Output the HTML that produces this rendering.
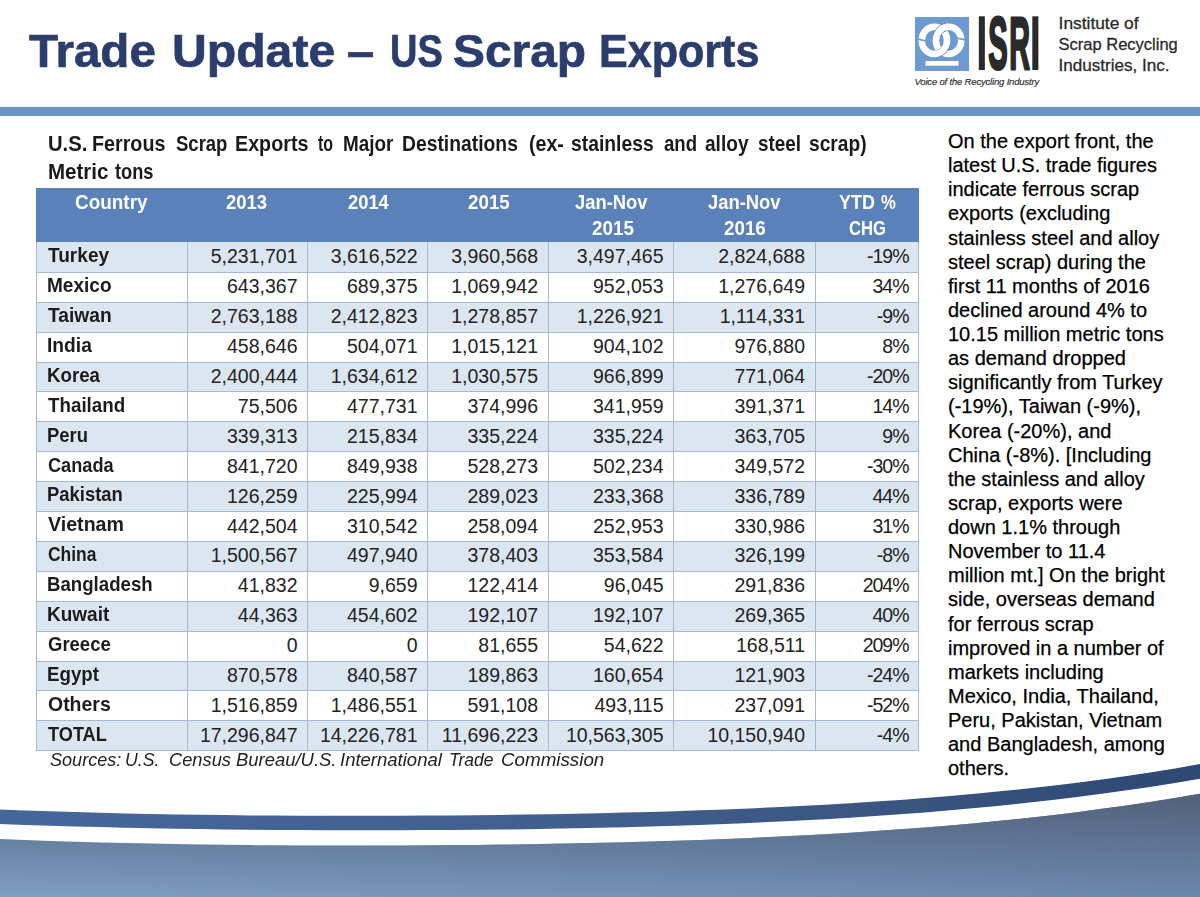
<!DOCTYPE html>
<html lang="en">
<head>
<meta charset="utf-8">
<title>Trade Update – US Scrap Exports</title>
<style>
html,body{margin:0;padding:0;}
body{width:1200px;height:897px;position:relative;overflow:hidden;background:#fff;
  font-family:"Liberation Sans",sans-serif;color:#111;}
.abs{position:absolute;white-space:nowrap;}
#bar{left:0;top:107px;width:1200px;height:9px;background:linear-gradient(#6e90b8 0,#6b96c8 1.5px,#6b96c8 7.5px,#6e90b8 9px);}
#logo{left:900px;top:0;width:300px;height:105px;}
#tbl{left:36px;top:187.5px;width:883px;height:564px;}
#para{left:948px;top:129px;font-size:20px;line-height:24.12px;color:#000;white-space:nowrap;-webkit-text-stroke:0.25px #000;}
#foot{left:0;top:740px;width:1200px;height:157px;}

.w{position:absolute;display:block;white-space:nowrap;transform-origin:0 50%;line-height:1.117;font-weight:bold;}
.ttl{color:#2b3d6d;-webkit-text-stroke:0.7px #2b3d6d;}
.src{color:#222;font-weight:normal;font-style:italic;}
.tt{color:#1a1a1a;}
.nm{color:#1c1c1c;}
.hh{color:#fff;}
/* table */
#tbl .hd{position:absolute;left:0;top:0;width:882.5px;height:55px;background:#5a81ba;}
#tbl .row{position:absolute;left:0;width:882.5px;height:29.9px;box-sizing:border-box;}
#tbl .row.odd{background:#dce6f1;}
#tbl .row.even{background:#fff;}
#tbl .hl{position:absolute;left:0;width:882.5px;height:1px;background:#a6b9d7;}
#tbl .vl{position:absolute;top:55px;width:1px;height:508.3px;background:#a6b9d7;}
#tbl .c{position:absolute;font-size:19.5px;line-height:29.9px;height:29.9px;color:#232323;}
#tbl .r{text-align:right;}
</style>
</head>
<body>
<div id="bar" class="abs"></div>
<div id="tbl" class="abs">
<div class="hd" style="height:54.9px"></div>
<div class="row odd" style="top:54.90px"></div>
<div class="row even" style="top:84.80px"></div>
<div class="row odd" style="top:114.70px"></div>
<div class="row even" style="top:144.60px"></div>
<div class="row odd" style="top:174.50px"></div>
<div class="row even" style="top:204.40px"></div>
<div class="row odd" style="top:234.30px"></div>
<div class="row even" style="top:264.20px"></div>
<div class="row odd" style="top:294.10px"></div>
<div class="row even" style="top:324.00px"></div>
<div class="row odd" style="top:353.90px"></div>
<div class="row even" style="top:383.80px"></div>
<div class="row odd" style="top:413.70px"></div>
<div class="row even" style="top:443.60px"></div>
<div class="row odd" style="top:473.50px"></div>
<div class="row even" style="top:503.40px"></div>
<div class="row odd" style="top:533.30px"></div>
<div class="c r" style="top:54.90px;left:151.5px;width:110.0px">5,231,701</div>
<div class="c r" style="top:54.90px;left:271.5px;width:110.0px">3,616,522</div>
<div class="c r" style="top:54.90px;left:391.5px;width:110.5px">3,960,568</div>
<div class="c r" style="top:54.90px;left:512.0px;width:115.5px">3,497,465</div>
<div class="c r" style="top:54.90px;left:637.5px;width:131.5px">2,824,688</div>
<div class="c r" style="top:54.90px;left:779.0px;width:93.5px;letter-spacing:-1px">-19%</div>
<div class="c r" style="top:84.80px;left:151.5px;width:110.0px">643,367</div>
<div class="c r" style="top:84.80px;left:271.5px;width:110.0px">689,375</div>
<div class="c r" style="top:84.80px;left:391.5px;width:110.5px">1,069,942</div>
<div class="c r" style="top:84.80px;left:512.0px;width:115.5px">952,053</div>
<div class="c r" style="top:84.80px;left:637.5px;width:131.5px">1,276,649</div>
<div class="c r" style="top:84.80px;left:779.0px;width:93.5px;letter-spacing:-1px">34%</div>
<div class="c r" style="top:114.70px;left:151.5px;width:110.0px">2,763,188</div>
<div class="c r" style="top:114.70px;left:271.5px;width:110.0px">2,412,823</div>
<div class="c r" style="top:114.70px;left:391.5px;width:110.5px">1,278,857</div>
<div class="c r" style="top:114.70px;left:512.0px;width:115.5px">1,226,921</div>
<div class="c r" style="top:114.70px;left:637.5px;width:131.5px">1,114,331</div>
<div class="c r" style="top:114.70px;left:779.0px;width:93.5px;letter-spacing:-1px">-9%</div>
<div class="c r" style="top:144.60px;left:151.5px;width:110.0px">458,646</div>
<div class="c r" style="top:144.60px;left:271.5px;width:110.0px">504,071</div>
<div class="c r" style="top:144.60px;left:391.5px;width:110.5px">1,015,121</div>
<div class="c r" style="top:144.60px;left:512.0px;width:115.5px">904,102</div>
<div class="c r" style="top:144.60px;left:637.5px;width:131.5px">976,880</div>
<div class="c r" style="top:144.60px;left:779.0px;width:93.5px;letter-spacing:-1px">8%</div>
<div class="c r" style="top:174.50px;left:151.5px;width:110.0px">2,400,444</div>
<div class="c r" style="top:174.50px;left:271.5px;width:110.0px">1,634,612</div>
<div class="c r" style="top:174.50px;left:391.5px;width:110.5px">1,030,575</div>
<div class="c r" style="top:174.50px;left:512.0px;width:115.5px">966,899</div>
<div class="c r" style="top:174.50px;left:637.5px;width:131.5px">771,064</div>
<div class="c r" style="top:174.50px;left:779.0px;width:93.5px;letter-spacing:-1px">-20%</div>
<div class="c r" style="top:204.40px;left:151.5px;width:110.0px">75,506</div>
<div class="c r" style="top:204.40px;left:271.5px;width:110.0px">477,731</div>
<div class="c r" style="top:204.40px;left:391.5px;width:110.5px">374,996</div>
<div class="c r" style="top:204.40px;left:512.0px;width:115.5px">341,959</div>
<div class="c r" style="top:204.40px;left:637.5px;width:131.5px">391,371</div>
<div class="c r" style="top:204.40px;left:779.0px;width:93.5px;letter-spacing:-1px">14%</div>
<div class="c r" style="top:234.30px;left:151.5px;width:110.0px">339,313</div>
<div class="c r" style="top:234.30px;left:271.5px;width:110.0px">215,834</div>
<div class="c r" style="top:234.30px;left:391.5px;width:110.5px">335,224</div>
<div class="c r" style="top:234.30px;left:512.0px;width:115.5px">335,224</div>
<div class="c r" style="top:234.30px;left:637.5px;width:131.5px">363,705</div>
<div class="c r" style="top:234.30px;left:779.0px;width:93.5px;letter-spacing:-1px">9%</div>
<div class="c r" style="top:264.20px;left:151.5px;width:110.0px">841,720</div>
<div class="c r" style="top:264.20px;left:271.5px;width:110.0px">849,938</div>
<div class="c r" style="top:264.20px;left:391.5px;width:110.5px">528,273</div>
<div class="c r" style="top:264.20px;left:512.0px;width:115.5px">502,234</div>
<div class="c r" style="top:264.20px;left:637.5px;width:131.5px">349,572</div>
<div class="c r" style="top:264.20px;left:779.0px;width:93.5px;letter-spacing:-1px">-30%</div>
<div class="c r" style="top:294.10px;left:151.5px;width:110.0px">126,259</div>
<div class="c r" style="top:294.10px;left:271.5px;width:110.0px">225,994</div>
<div class="c r" style="top:294.10px;left:391.5px;width:110.5px">289,023</div>
<div class="c r" style="top:294.10px;left:512.0px;width:115.5px">233,368</div>
<div class="c r" style="top:294.10px;left:637.5px;width:131.5px">336,789</div>
<div class="c r" style="top:294.10px;left:779.0px;width:93.5px;letter-spacing:-1px">44%</div>
<div class="c r" style="top:324.00px;left:151.5px;width:110.0px">442,504</div>
<div class="c r" style="top:324.00px;left:271.5px;width:110.0px">310,542</div>
<div class="c r" style="top:324.00px;left:391.5px;width:110.5px">258,094</div>
<div class="c r" style="top:324.00px;left:512.0px;width:115.5px">252,953</div>
<div class="c r" style="top:324.00px;left:637.5px;width:131.5px">330,986</div>
<div class="c r" style="top:324.00px;left:779.0px;width:93.5px;letter-spacing:-1px">31%</div>
<div class="c r" style="top:353.90px;left:151.5px;width:110.0px">1,500,567</div>
<div class="c r" style="top:353.90px;left:271.5px;width:110.0px">497,940</div>
<div class="c r" style="top:353.90px;left:391.5px;width:110.5px">378,403</div>
<div class="c r" style="top:353.90px;left:512.0px;width:115.5px">353,584</div>
<div class="c r" style="top:353.90px;left:637.5px;width:131.5px">326,199</div>
<div class="c r" style="top:353.90px;left:779.0px;width:93.5px;letter-spacing:-1px">-8%</div>
<div class="c r" style="top:383.80px;left:151.5px;width:110.0px">41,832</div>
<div class="c r" style="top:383.80px;left:271.5px;width:110.0px">9,659</div>
<div class="c r" style="top:383.80px;left:391.5px;width:110.5px">122,414</div>
<div class="c r" style="top:383.80px;left:512.0px;width:115.5px">96,045</div>
<div class="c r" style="top:383.80px;left:637.5px;width:131.5px">291,836</div>
<div class="c r" style="top:383.80px;left:779.0px;width:93.5px;letter-spacing:-1px">204%</div>
<div class="c r" style="top:413.70px;left:151.5px;width:110.0px">44,363</div>
<div class="c r" style="top:413.70px;left:271.5px;width:110.0px">454,602</div>
<div class="c r" style="top:413.70px;left:391.5px;width:110.5px">192,107</div>
<div class="c r" style="top:413.70px;left:512.0px;width:115.5px">192,107</div>
<div class="c r" style="top:413.70px;left:637.5px;width:131.5px">269,365</div>
<div class="c r" style="top:413.70px;left:779.0px;width:93.5px;letter-spacing:-1px">40%</div>
<div class="c r" style="top:443.60px;left:151.5px;width:110.0px">0</div>
<div class="c r" style="top:443.60px;left:271.5px;width:110.0px">0</div>
<div class="c r" style="top:443.60px;left:391.5px;width:110.5px">81,655</div>
<div class="c r" style="top:443.60px;left:512.0px;width:115.5px">54,622</div>
<div class="c r" style="top:443.60px;left:637.5px;width:131.5px">168,511</div>
<div class="c r" style="top:443.60px;left:779.0px;width:93.5px;letter-spacing:-1px">209%</div>
<div class="c r" style="top:473.50px;left:151.5px;width:110.0px">870,578</div>
<div class="c r" style="top:473.50px;left:271.5px;width:110.0px">840,587</div>
<div class="c r" style="top:473.50px;left:391.5px;width:110.5px">189,863</div>
<div class="c r" style="top:473.50px;left:512.0px;width:115.5px">160,654</div>
<div class="c r" style="top:473.50px;left:637.5px;width:131.5px">121,903</div>
<div class="c r" style="top:473.50px;left:779.0px;width:93.5px;letter-spacing:-1px">-24%</div>
<div class="c r" style="top:503.40px;left:151.5px;width:110.0px">1,516,859</div>
<div class="c r" style="top:503.40px;left:271.5px;width:110.0px">1,486,551</div>
<div class="c r" style="top:503.40px;left:391.5px;width:110.5px">591,108</div>
<div class="c r" style="top:503.40px;left:512.0px;width:115.5px">493,115</div>
<div class="c r" style="top:503.40px;left:637.5px;width:131.5px">237,091</div>
<div class="c r" style="top:503.40px;left:779.0px;width:93.5px;letter-spacing:-1px">-52%</div>
<div class="c r" style="top:533.30px;left:151.5px;width:110.0px">17,296,847</div>
<div class="c r" style="top:533.30px;left:271.5px;width:110.0px">14,226,781</div>
<div class="c r" style="top:533.30px;left:391.5px;width:110.5px">11,696,223</div>
<div class="c r" style="top:533.30px;left:512.0px;width:115.5px">10,563,305</div>
<div class="c r" style="top:533.30px;left:637.5px;width:131.5px">10,150,940</div>
<div class="c r" style="top:533.30px;left:779.0px;width:93.5px;letter-spacing:-1px">-4%</div>
<div class="hl" style="top:84.30px"></div>
<div class="hl" style="top:114.20px"></div>
<div class="hl" style="top:144.10px"></div>
<div class="hl" style="top:174.00px"></div>
<div class="hl" style="top:203.90px"></div>
<div class="hl" style="top:233.80px"></div>
<div class="hl" style="top:263.70px"></div>
<div class="hl" style="top:293.60px"></div>
<div class="hl" style="top:323.50px"></div>
<div class="hl" style="top:353.40px"></div>
<div class="hl" style="top:383.30px"></div>
<div class="hl" style="top:413.20px"></div>
<div class="hl" style="top:443.10px"></div>
<div class="hl" style="top:473.00px"></div>
<div class="hl" style="top:502.90px"></div>
<div class="hl" style="top:532.80px"></div>
<div class="hl" style="top:562.70px"></div>
<div class="vl" style="left:-0.5px;top:54.9px"></div>
<div class="vl" style="left:151.0px;top:54.9px"></div>
<div class="vl" style="left:271.0px;top:54.9px"></div>
<div class="vl" style="left:391.0px;top:54.9px"></div>
<div class="vl" style="left:511.5px;top:54.9px"></div>
<div class="vl" style="left:637.0px;top:54.9px"></div>
<div class="vl" style="left:778.5px;top:54.9px"></div>
<div class="vl" style="left:882.0px;top:54.9px"></div>
</div>
<div id="para" class="abs">On the export front, the<br>latest U.S. trade figures<br>indicate ferrous scrap<br>exports (excluding<br>stainless steel and alloy<br>steel scrap) during the<br>first 11 months of 2016<br>declined around 4% to<br>10.15 million metric tons<br>as demand dropped<br>significantly from Turkey<br>(-19%), Taiwan (-9%),<br>Korea (-20%), and<br>China (-8%). [Including<br>the stainless and alloy<br>scrap, exports were<br>down 1.1% through<br>November to 11.4<br>million mt.] On the bright<br>side, overseas demand<br>for ferrous scrap<br>improved in a number of<br>markets including<br>Mexico, India, Thailand,<br>Peru, Pakistan, Vietnam<br>and Bangladesh, among<br>others.</div>
<span class="w ttl" style="left:29.30px;top:25.46px;font-size:47px;transform:scaleX(1.0116);">Trade</span>
<span class="w ttl" style="left:171.95px;top:25.46px;font-size:47px;transform:scaleX(1.0246);">Update</span>
<span class="w ttl" style="left:347.26px;top:25.46px;font-size:47px;transform:scaleX(1.0417);">–</span>
<span class="w ttl" style="left:390.09px;top:25.46px;font-size:47px;transform:scaleX(0.8072);">US</span>
<span class="w ttl" style="left:452.98px;top:25.46px;font-size:47px;transform:scaleX(1.0186);">Scrap</span>
<span class="w ttl" style="left:598.95px;top:25.46px;font-size:47px;transform:scaleX(0.9166);">Exports</span>
<span class="w tt" style="left:47.81px;top:132.25px;font-size:21.6px;transform:scaleX(0.9376);">U.S.</span>
<span class="w tt" style="left:91.59px;top:132.25px;font-size:21.6px;transform:scaleX(0.9132);">Ferrous</span>
<span class="w tt" style="left:176.25px;top:132.25px;font-size:21.6px;transform:scaleX(0.8567);">Scrap</span>
<span class="w tt" style="left:235.34px;top:132.25px;font-size:21.6px;transform:scaleX(0.9132);">Exports</span>
<span class="w tt" style="left:317.50px;top:132.25px;font-size:21.6px;transform:scaleX(0.7429);">to</span>
<span class="w tt" style="left:342.88px;top:132.25px;font-size:21.6px;transform:scaleX(0.8743);">Major</span>
<span class="w tt" style="left:401.61px;top:132.25px;font-size:21.6px;transform:scaleX(0.8944);">Destinations</span>
<span class="w tt" style="left:529.09px;top:132.25px;font-size:21.6px;transform:scaleX(0.9070);">(ex-</span>
<span class="w tt" style="left:571.20px;top:132.25px;font-size:21.6px;transform:scaleX(0.8948);">stainless</span>
<span class="w tt" style="left:664.00px;top:132.25px;font-size:21.6px;transform:scaleX(0.8602);">and</span>
<span class="w tt" style="left:705.30px;top:132.25px;font-size:21.6px;transform:scaleX(0.8842);">alloy</span>
<span class="w tt" style="left:757.90px;top:132.25px;font-size:21.6px;transform:scaleX(0.8731);">steel</span>
<span class="w tt" style="left:809.30px;top:132.25px;font-size:21.6px;transform:scaleX(0.8882);">scrap)</span>
<span class="w tt" style="left:47.80px;top:159.85px;font-size:21.6px;transform:scaleX(0.9506);">Metric</span>
<span class="w tt" style="left:115.25px;top:159.85px;font-size:21.6px;transform:scaleX(0.8448);">tons</span>
<span class="w nm" style="left:48.10px;top:244.24px;font-size:20.4px;transform:scaleX(0.9347);">Turkey</span>
<span class="w nm" style="left:47.17px;top:274.14px;font-size:20.4px;transform:scaleX(0.9339);">Mexico</span>
<span class="w nm" style="left:48.10px;top:304.04px;font-size:20.4px;transform:scaleX(0.9412);">Taiwan</span>
<span class="w nm" style="left:47.16px;top:333.94px;font-size:20.4px;transform:scaleX(0.9420);">India</span>
<span class="w nm" style="left:47.18px;top:363.84px;font-size:20.4px;transform:scaleX(0.9172);">Korea</span>
<span class="w nm" style="left:48.10px;top:393.74px;font-size:20.4px;transform:scaleX(0.9211);">Thailand</span>
<span class="w nm" style="left:47.20px;top:423.64px;font-size:20.4px;transform:scaleX(0.9048);">Peru</span>
<span class="w nm" style="left:48.10px;top:453.54px;font-size:20.4px;transform:scaleX(0.8908);">Canada</span>
<span class="w nm" style="left:47.20px;top:483.44px;font-size:20.4px;transform:scaleX(0.9039);">Pakistan</span>
<span class="w nm" style="left:48.10px;top:513.34px;font-size:20.4px;transform:scaleX(0.9624);">Vietnam</span>
<span class="w nm" style="left:48.10px;top:543.24px;font-size:20.4px;transform:scaleX(0.8551);">China</span>
<span class="w nm" style="left:47.19px;top:573.14px;font-size:20.4px;transform:scaleX(0.9140);">Bangladesh</span>
<span class="w nm" style="left:47.17px;top:603.04px;font-size:20.4px;transform:scaleX(0.9312);">Kuwait</span>
<span class="w nm" style="left:48.10px;top:632.94px;font-size:20.4px;transform:scaleX(0.9068);">Greece</span>
<span class="w nm" style="left:47.18px;top:662.84px;font-size:20.4px;transform:scaleX(0.9167);">Egypt</span>
<span class="w nm" style="left:48.10px;top:692.74px;font-size:20.4px;transform:scaleX(0.9544);">Others</span>
<span class="w nm" style="left:48.10px;top:722.64px;font-size:20.4px;transform:scaleX(0.8901);">TOTAL</span>
<span class="w hh" style="left:75.30px;top:190.90px;font-size:20px;transform:scaleX(0.9466);">Country</span>
<span class="w hh" style="left:226.00px;top:190.90px;font-size:20px;transform:scaleX(0.9241);">2013</span>
<span class="w hh" style="left:347.70px;top:190.90px;font-size:20px;transform:scaleX(0.9169);">2014</span>
<span class="w hh" style="left:467.90px;top:190.90px;font-size:20px;transform:scaleX(0.9398);">2015</span>
<span class="w hh" style="left:575.00px;top:190.90px;font-size:20px;transform:scaleX(0.9187);">Jan-Nov</span>
<span class="w hh" style="left:707.80px;top:190.90px;font-size:20px;transform:scaleX(0.9200);">Jan-Nov</span>
<span class="w hh" style="left:838.75px;top:190.90px;font-size:20px;transform:scaleX(0.8962);">YTD</span>
<span class="w hh" style="left:881.25px;top:190.90px;font-size:20px;transform:scaleX(0.8333);">%</span>
<span class="w hh" style="left:591.70px;top:216.90px;font-size:20px;transform:scaleX(0.9421);">2015</span>
<span class="w hh" style="left:724.20px;top:216.90px;font-size:20px;transform:scaleX(0.9398);">2016</span>
<span class="w hh" style="left:849.20px;top:216.90px;font-size:20px;transform:scaleX(0.8340);">CHG</span>
<span class="w src" style="left:49.50px;top:751.36px;font-size:17.5px;transform:scaleX(1.0333);">Sources:</span>
<span class="w src" style="left:124.99px;top:751.36px;font-size:17.5px;transform:scaleX(1.0105);">U.S.</span>
<span class="w src" style="left:168.75px;top:751.36px;font-size:17.5px;transform:scaleX(1.0447);">Census</span>
<span class="w src" style="left:236.00px;top:751.36px;font-size:17.5px;transform:scaleX(1.0539);">Bureau/U.S.</span>
<span class="w src" style="left:340.00px;top:751.36px;font-size:17.5px;transform:scaleX(1.0572);">International</span>
<span class="w src" style="left:449.00px;top:751.36px;font-size:17.5px;transform:scaleX(1.0015);">Trade</span>
<span class="w src" style="left:501.25px;top:751.36px;font-size:17.5px;transform:scaleX(1.0729);">Commission</span>
<svg id="logo" class="abs" width="300" height="105" viewBox="900 0 300 105">
  <rect x="915" y="17" width="54" height="54" fill="#6c9bd2"/>
  <g fill="none" stroke-linecap="butt">
    <ellipse cx="934.4" cy="40.4" rx="12.7" ry="13.6" stroke="#fff" stroke-width="6.5"/>
    <ellipse cx="948.6" cy="40.4" rx="12.7" ry="13.6" stroke="#fff" stroke-width="6.5"/>
    <path d="M946.39,27.01 A12.7,13.6 0 0 0 936.33,36.88" stroke="#4f79ad" stroke-width="7.9"/>
    <path d="M947.49,26.85 A12.7,13.6 0 0 0 936.09,38.04" stroke="#fff" stroke-width="6.5"/>
    <path d="M946.67,43.92 A12.7,13.6 0 0 1 936.61,53.79" stroke="#4f79ad" stroke-width="7.9"/>
    <path d="M946.91,42.76 A12.7,13.6 0 0 1 935.51,53.95" stroke="#fff" stroke-width="6.5"/>
    <path d="M918.0,39.2 L926.0,41.0" stroke="#6c9bd2" stroke-width="1.7"/>
    <path d="M957.2,38.2 L965.2,39.8" stroke="#6c9bd2" stroke-width="1.7"/>
  </g>
  <rect x="925.5" y="61" width="33" height="4.7" fill="#fff"/>
  <g font-family="'Liberation Sans',sans-serif" font-weight="bold" font-size="77.8" fill="#2a2a2a" stroke="#2a2a2a" stroke-linejoin="round">
    <text transform="translate(976.05,69.9) scale(0.54,1)" stroke-width="0">I</text>
    <text transform="translate(988.3,69.3) scale(0.375,0.948)" stroke-width="2.3" vector-effect="non-scaling-stroke">S</text>
    <text transform="translate(1009.3,68.9) scale(0.37,0.963)" stroke-width="2.3" vector-effect="non-scaling-stroke">R</text>
    <text transform="translate(1029.55,69.9) scale(0.54,1)" stroke-width="0">I</text>
  </g>
  <text x="914.5" y="84.5" font-family="'Liberation Sans',sans-serif" font-style="italic" font-size="9.5" fill="#333" stroke="#333" stroke-width="0.2" letter-spacing="-0.18">Voice of the Recycling Industry</text>
  <g font-family="'Liberation Sans',sans-serif" font-size="17.4" fill="#2a2a2a" stroke="#2a2a2a" stroke-width="0.3">
    <text x="1058.6" y="29" textLength="80" lengthAdjust="spacingAndGlyphs">Institute of</text>
    <text x="1058.6" y="49.6" textLength="119.2" lengthAdjust="spacingAndGlyphs">Scrap Recycling</text>
    <text x="1058.6" y="70.9" textLength="111" lengthAdjust="spacingAndGlyphs">Industries, Inc.</text>
  </g>
</svg>
<svg id="foot" class="abs" width="1200" height="157" viewBox="0 740 1200 157">
  <defs>
    <linearGradient id="gL" gradientUnits="userSpaceOnUse" x1="0" y1="793" x2="0" y2="897">
      <stop offset="0" stop-color="rgb(81,107,133)"/>
      <stop offset="1" stop-color="rgb(129,159,197)"/>
    </linearGradient>
    <linearGradient id="gR" gradientUnits="userSpaceOnUse" x1="0" y1="793" x2="0" y2="897">
      <stop offset="0" stop-color="rgb(83,96,123)"/>
      <stop offset="1" stop-color="rgb(107,135,171)"/>
    </linearGradient>
    <linearGradient id="gM" gradientUnits="userSpaceOnUse" x1="0" y1="0" x2="1200" y2="0">
      <stop offset="0" stop-color="#000"/>
      <stop offset="1" stop-color="#fff"/>
    </linearGradient>
    <mask id="mk" maskUnits="userSpaceOnUse" x="0" y="740" width="1200" height="157">
      <rect x="0" y="740" width="1200" height="157" fill="url(#gM)"/>
    </mask>
    <linearGradient id="g2" gradientUnits="userSpaceOnUse" x1="0" y1="0" x2="1200" y2="0">
      <stop offset="0" stop-color="#46679a"/>
      <stop offset="0.25" stop-color="#446295"/>
      <stop offset="0.5" stop-color="#415e8e"/>
      <stop offset="0.75" stop-color="#39557f"/>
      <stop offset="1" stop-color="#2e4775"/>
    </linearGradient>
  </defs>
  <path d="M0,839.0 L25,840.0 L50,840.9 L75,841.7 L100,842.4 L125,843.1 L150,843.6 L175,844.1 L200,844.5 L225,844.8 L250,845.1 L275,845.3 L300,845.4 L325,845.5 L350,845.6 L375,845.5 L400,845.4 L425,845.3 L450,845.1 L475,844.9 L500,844.6 L525,844.2 L550,843.8 L575,843.3 L600,842.8 L625,842.2 L650,841.5 L675,840.7 L700,839.9 L725,838.9 L750,837.9 L775,836.8 L800,835.5 L825,834.2 L850,832.7 L875,831.1 L900,829.3 L925,827.5 L950,825.4 L975,823.2 L1000,820.8 L1025,818.2 L1050,815.4 L1075,812.4 L1100,809.1 L1125,805.7 L1150,802.0 L1175,798.0 L1200,793.7 L1200,897 L0,897 Z" fill="url(#gL)"/>
  <path d="M0,839.0 L25,840.0 L50,840.9 L75,841.7 L100,842.4 L125,843.1 L150,843.6 L175,844.1 L200,844.5 L225,844.8 L250,845.1 L275,845.3 L300,845.4 L325,845.5 L350,845.6 L375,845.5 L400,845.4 L425,845.3 L450,845.1 L475,844.9 L500,844.6 L525,844.2 L550,843.8 L575,843.3 L600,842.8 L625,842.2 L650,841.5 L675,840.7 L700,839.9 L725,838.9 L750,837.9 L775,836.8 L800,835.5 L825,834.2 L850,832.7 L875,831.1 L900,829.3 L925,827.5 L950,825.4 L975,823.2 L1000,820.8 L1025,818.2 L1050,815.4 L1075,812.4 L1100,809.1 L1125,805.7 L1150,802.0 L1175,798.0 L1200,793.7 L1200,897 L0,897 Z" fill="url(#gR)" mask="url(#mk)"/>
  <path d="M0,809.4 L25,810.4 L50,811.3 L75,812.1 L100,812.8 L125,813.4 L150,813.9 L175,814.4 L200,814.8 L225,815.1 L250,815.4 L275,815.6 L300,815.7 L325,815.8 L350,815.8 L375,815.8 L400,815.7 L425,815.6 L450,815.4 L475,815.2 L500,814.9 L525,814.6 L550,814.2 L575,813.7 L600,813.2 L625,812.6 L650,811.9 L675,811.2 L700,810.3 L725,809.4 L750,808.4 L775,807.3 L800,806.0 L825,804.7 L850,803.2 L875,801.6 L900,799.9 L925,798.0 L950,795.9 L975,793.7 L1000,791.3 L1025,788.7 L1050,785.9 L1075,782.9 L1100,779.7 L1125,776.2 L1150,772.4 L1175,768.4 L1200,764.1 L1200,778.8 L1175,783.0 L1150,787.0 L1125,790.6 L1100,794.1 L1075,797.3 L1050,800.3 L1025,803.1 L1000,805.7 L975,808.1 L950,810.3 L925,812.4 L900,814.3 L875,816.0 L850,817.7 L825,819.2 L800,820.5 L775,821.8 L750,822.9 L725,824.0 L700,824.9 L675,825.7 L650,826.5 L625,827.2 L600,827.8 L575,828.3 L550,828.8 L525,829.2 L500,829.5 L475,829.8 L450,830.0 L425,830.1 L400,830.2 L375,830.3 L350,830.2 L325,830.2 L300,830.1 L275,829.9 L250,829.7 L225,829.4 L200,829.1 L175,828.7 L150,828.2 L125,827.7 L100,827.1 L75,826.4 L50,825.7 L25,824.9 L0,824.0 Z" fill="url(#g2)"/>
</svg>
</body>
</html>
